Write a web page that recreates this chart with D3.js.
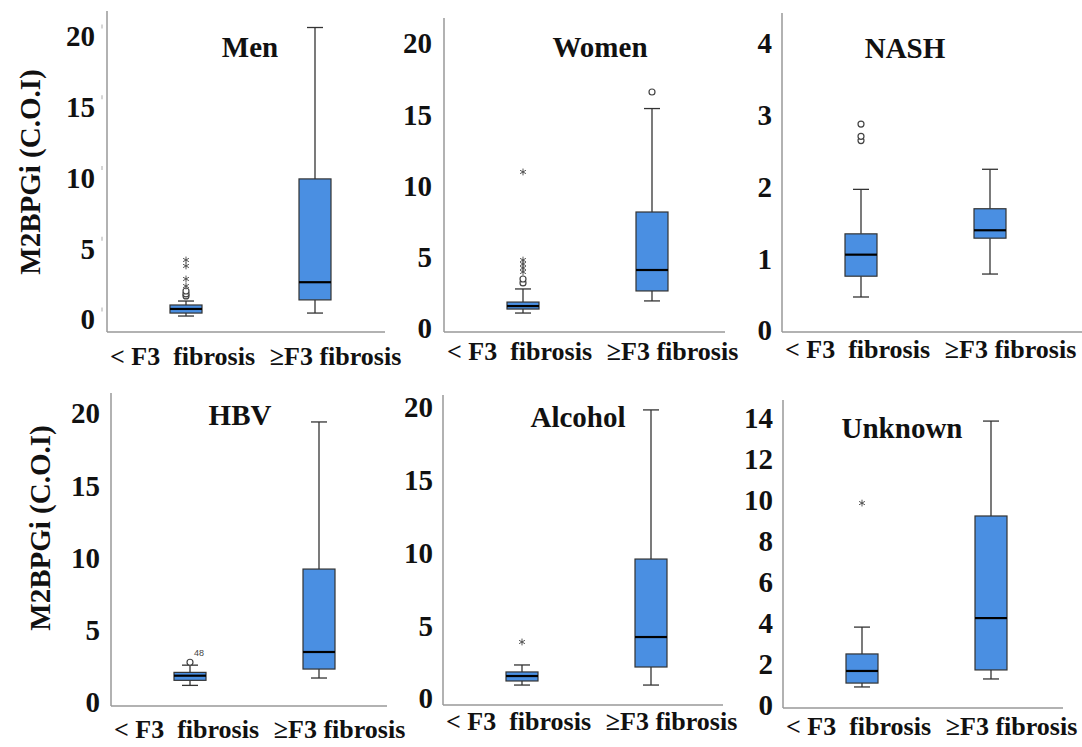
<!DOCTYPE html>
<html>
<head>
<meta charset="UTF-8">
<script src="https://cdn.jsdelivr.net/npm/d3@7"></script>
<style>
  body { margin: 0; background: #fff; }
  text { font-family: "Liberation Serif", "Times New Roman", serif; font-weight: bold; fill: #111; }
  text.note { font-family: "Liberation Sans", Arial, sans-serif; font-weight: normal; fill: #444; }
</style>
</head>
<body>
<svg width="1082" height="747"></svg>
<script>
// ---- data ----
var categories = ["< F3  fibrosis", "\u2265F3 fibrosis"];
var panelTitles = ["Men", "Women", "NASH", "HBV", "Alcohol", "Unknown"];
var yTicks = [
  [0, 5, 10, 15, 20],
  [0, 5, 10, 15, 20],
  [0, 1, 2, 3, 4],
  [0, 5, 10, 15, 20],
  [0, 5, 10, 15, 20],
  [0, 2, 4, 6, 8, 10, 12, 14]
];
// [< F3, >= F3] per panel
var lowWhisker  = [[0.21, 0.42], [1.05, 1.90], [0.46, 0.78], [1.15, 1.66], [0.89, 0.89], [0.88, 1.27]];
var q1          = [[0.42, 1.35], [1.33, 2.60], [0.75, 1.28], [1.50, 2.28], [1.17, 2.13], [1.07, 1.71]];
var medians     = [[0.71, 2.60], [1.54, 4.07], [1.05, 1.39], [1.82, 3.46], [1.51, 4.19], [1.66, 4.24]];
var q3          = [[0.99, 9.90], [1.82, 8.14], [1.34, 1.69], [2.05, 9.20], [1.79, 9.55], [2.49, 9.22]];
var highWhisker = [[1.27, 20.6], [2.74, 15.4], [1.96, 2.24], [2.55, 19.38], [2.27, 19.8], [3.80, 13.85]];
// mild outliers (circles) and extremes (stars)
var circleOutliers = [
  [[1.63, 1.77, 1.98], []],
  [[3.16, 3.44], [16.56]],
  [[2.64, 2.70, 2.87], []],
  [[2.75], []],
  [[], []],
  [[], []]
];
var starOutliers = [
  [[2.33, 2.83, 3.75, 4.17], []],
  [[3.93, 4.21, 4.49, 4.77, 10.95], []],
  [[], []],
  [[], []],
  [[3.85], []],
  [[9.85], []]
];
var outlierLabels = [[], [], [], [{cat: 0, value: 2.75, text: "48"}], [], []];
var yAxisTitle = "M2BPGi (C.O.I)";

// ---- layout (pixels) ----
var frames = [
  {ax: 107, top: 11,  bottom: 332, right: 385,  y0: 319, yTop: 36,  tx: 250, ty: 57,  ly: 365, pad: 12},
  {ax: 444, top: 18,  bottom: 332, right: 725,  y0: 328, yTop: 43,  tx: 600, ty: 57,  ly: 360, pad: 12},
  {ax: 782, top: 13,  bottom: 332, right: 1082, y0: 330, yTop: 43,  tx: 905, ty: 58,  ly: 358, pad: 10},
  {ax: 111, top: 393, bottom: 706, right: 387,  y0: 702, yTop: 413, tx: 240, ty: 425, ly: 738, pad: 11},
  {ax: 443, top: 395, bottom: 705, right: 723,  y0: 698, yTop: 407, tx: 578, ty: 427, ly: 730, pad: 10},
  {ax: 783, top: 400, bottom: 708, right: 1063, y0: 705, yTop: 418, tx: 902, ty: 438, ly: 735, pad: 10}
];
var boxW = 32, capW = 16;
var boxFill = "#4a8fe2", lineCol = "#333";
var serif = "Liberation Serif, Times New Roman, serif";

var svg = d3.select("svg");
svg.append("rect").attr("width", 1082).attr("height", 747).attr("fill", "#fff");

panelTitles.forEach(function(title, p) {
  var f = frames[p];
  var ticks = yTicks[p];
  var y = d3.scaleLinear().domain([0, ticks[ticks.length - 1]]).range([f.y0, f.yTop]);
  var x = d3.scalePoint().domain(categories).range([f.ax + 79, f.ax + 208]);
  var xl = d3.scalePoint().domain(categories).range([f.ax + 75, f.ax + 228]);
  var g = svg.append("g");

  // axis lines
  g.append("line").attr("x1", f.ax).attr("x2", f.ax).attr("y1", f.top).attr("y2", f.bottom)
    .attr("stroke", "#999").attr("stroke-width", 1.5);
  g.append("line").attr("x1", f.ax).attr("x2", f.right).attr("y1", f.bottom).attr("y2", f.bottom)
    .attr("stroke", "#999").attr("stroke-width", 1.5);

  // y ticks
  var ya = g.append("g").attr("transform", "translate(" + f.ax + ",0)")
    .call(d3.axisLeft(y).tickValues(ticks).tickSize(0).tickPadding(f.pad).tickFormat(d3.format("d")))
    .attr("font-family", serif).attr("font-size", "29px");
  ya.select(".domain").remove();
  ya.selectAll("text").attr("dy", "0.34em").attr("fill", "#111");
  if (p === 0) {
    ya.selectAll(".tick").append("line").attr("x1", -5).attr("x2", -5).attr("y1", -12).attr("y2", -8)
      .attr("stroke", "#aaa");
  }

  // category labels
  var xa = g.append("g").attr("transform", "translate(0," + f.ly + ")")
    .call(d3.axisBottom(xl).tickSize(0).tickPadding(0))
    .attr("font-family", serif).attr("font-size", "26px");
  xa.select(".domain").remove();
  xa.selectAll("text").attr("dy", 0).attr("fill", "#111")
    .style("white-space", "pre").attr("xml:space", "preserve");

  // title
  g.append("text").attr("x", f.tx).attr("y", f.ty).attr("text-anchor", "middle")
    .attr("font-size", "29px").text(title);

  // boxes
  categories.forEach(function(c, i) {
    var cx = x(c);
    var bg = g.append("g");
    bg.append("line").attr("x1", cx).attr("x2", cx).attr("y1", y(highWhisker[p][i])).attr("y2", y(q3[p][i]))
      .attr("stroke", lineCol).attr("stroke-width", 1.3);
    bg.append("line").attr("x1", cx).attr("x2", cx).attr("y1", y(q1[p][i])).attr("y2", y(lowWhisker[p][i]))
      .attr("stroke", lineCol).attr("stroke-width", 1.3);
    [highWhisker[p][i], lowWhisker[p][i]].forEach(function(v) {
      bg.append("line").attr("x1", cx - capW / 2).attr("x2", cx + capW / 2).attr("y1", y(v)).attr("y2", y(v))
        .attr("stroke", lineCol).attr("stroke-width", 1.3);
    });
    bg.append("rect").attr("x", cx - boxW / 2).attr("width", boxW)
      .attr("y", y(q3[p][i])).attr("height", y(q1[p][i]) - y(q3[p][i]))
      .attr("fill", boxFill).attr("stroke", lineCol).attr("stroke-width", 1.2);
    bg.append("line").attr("x1", cx - boxW / 2).attr("x2", cx + boxW / 2)
      .attr("y1", y(medians[p][i])).attr("y2", y(medians[p][i]))
      .attr("stroke", "#000").attr("stroke-width", 2.2);

    bg.selectAll(".circ").data(circleOutliers[p][i]).enter().append("circle")
      .attr("cx", cx).attr("cy", function(d) { return y(d); }).attr("r", 3)
      .attr("fill", "#fff").attr("stroke", "#444").attr("stroke-width", 1.2);
    bg.selectAll(".star").data(starOutliers[p][i]).enter().append("path")
      .attr("transform", function(d) { return "translate(" + cx + "," + y(d) + ")"; })
      .attr("d", d3.symbol().type(d3.symbolAsterisk).size(32))
      .attr("fill", "none").attr("stroke", "#444").attr("stroke-width", 0.9);
  });

  outlierLabels[p].forEach(function(o) {
    g.append("text").attr("class", "note")
      .attr("x", x(categories[o.cat]) + 4).attr("y", y(o.value) - 6)
      .attr("font-size", "9px").text(o.text);
  });
});

// y axis titles
[[30, 172], [40, 528]].forEach(function(pos) {
  svg.append("text").attr("transform", "translate(" + pos[0] + "," + pos[1] + ") rotate(-90)")
    .attr("text-anchor", "middle").attr("dy", "0.35em").attr("font-size", "29px").text(yAxisTitle);
});
</script>
</body>
</html>
